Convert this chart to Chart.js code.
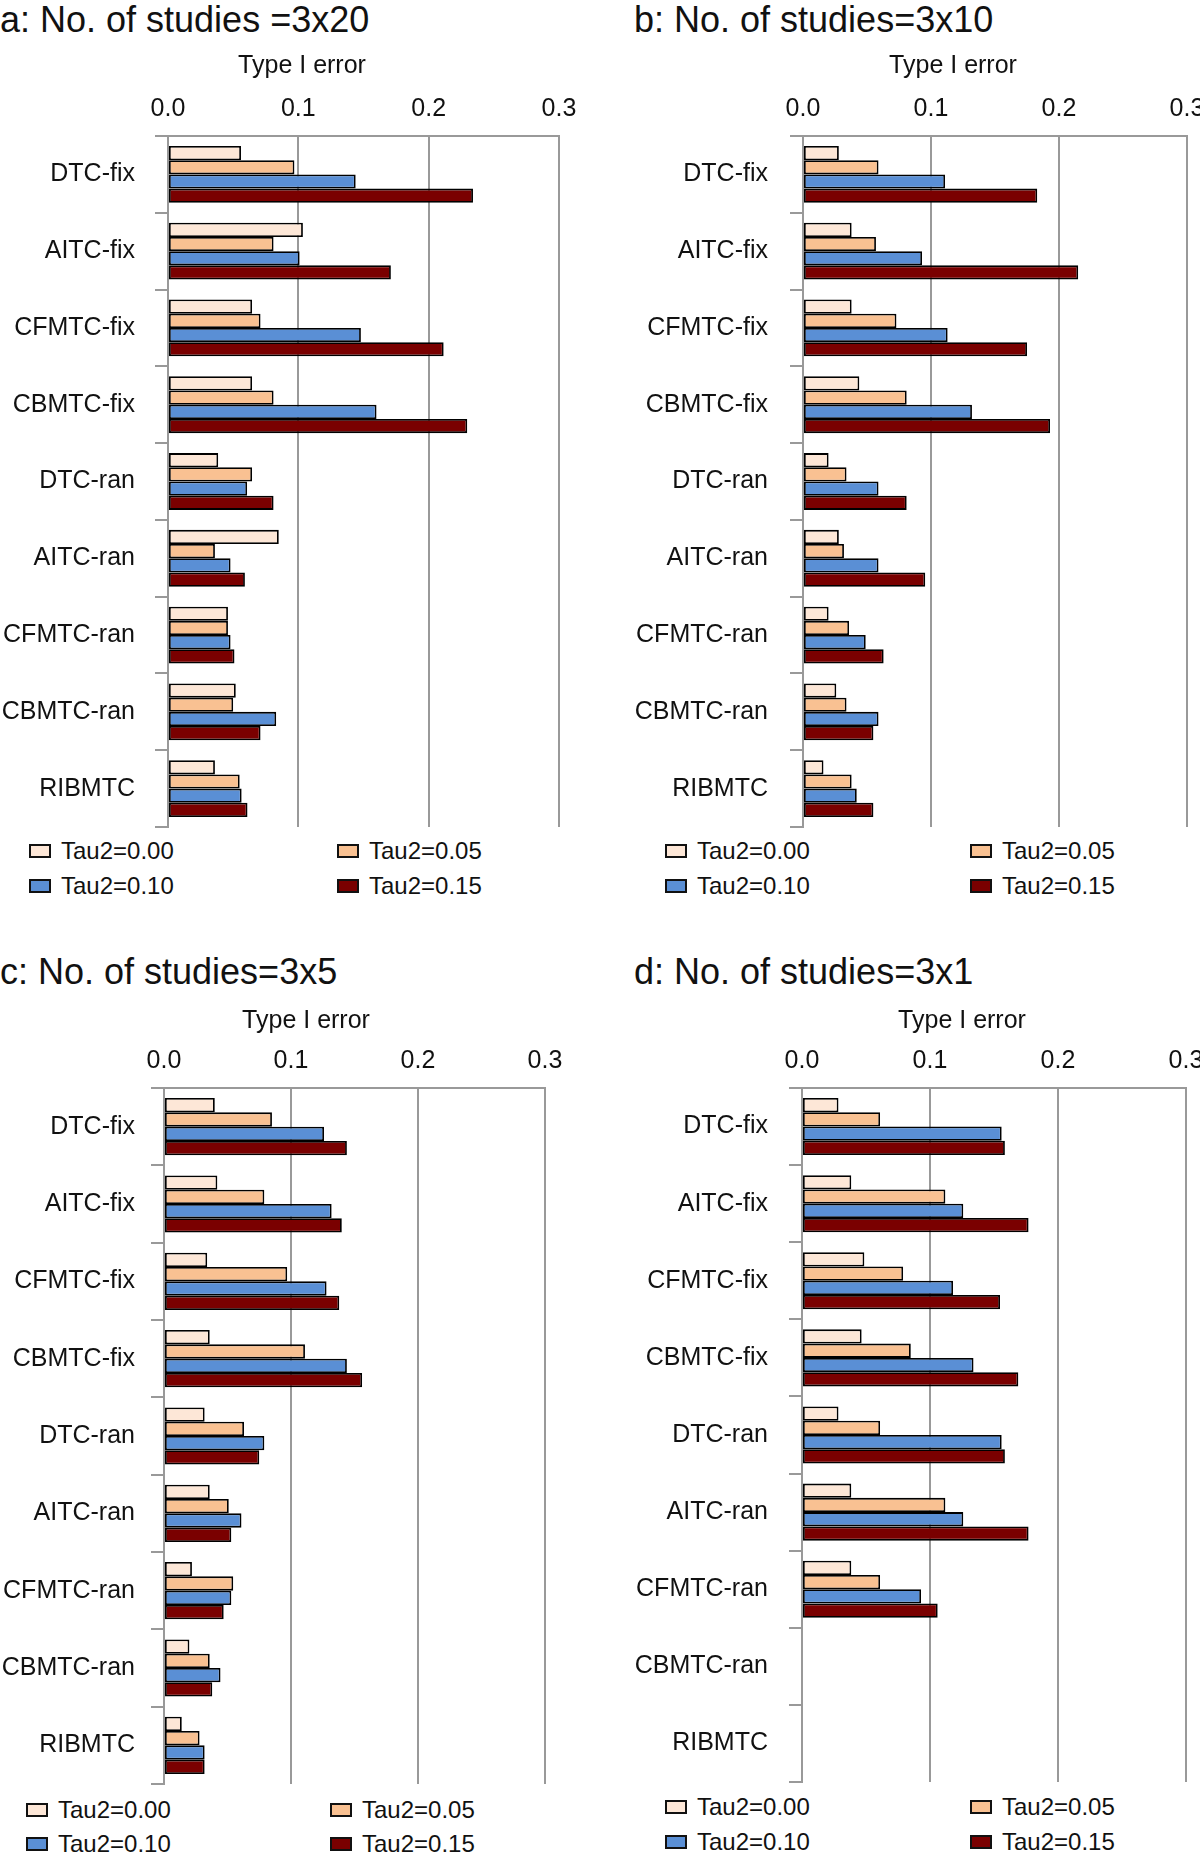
<!DOCTYPE html>
<html>
<head>
<meta charset="utf-8">
<script src="https://cdn.jsdelivr.net/npm/chart.js@4.4.1/dist/chart.umd.min.js"></script>
<style>
  body{margin:0;background:#fff;width:1200px;height:1858px;position:relative;overflow:hidden;
       font-family:'Liberation Sans',Arial,Helvetica,sans-serif;color:#111}
  .ptitle{position:absolute;font-size:36px;line-height:40px;white-space:nowrap}
  canvas{position:absolute}
  .leg{position:absolute;font-size:24px;line-height:30px;height:30px;display:flex;align-items:center;white-space:nowrap}
  .sw{width:22px;height:14px;border:2px solid #111;box-sizing:border-box;margin-right:10px}
</style>
</head>
<body>
<script>
// ---------- data ----------
const categories = ['DTC-fix','AITC-fix','CFMTC-fix','CBMTC-fix','DTC-ran','AITC-ran','CFMTC-ran','CBMTC-ran','RIBMTC'];
const seriesLabels = ['Tau2=0.00','Tau2=0.05','Tau2=0.10','Tau2=0.15'];
const seriesColors = ['#FDE7D7','#F9C192','#5A8FD5','#7A0000'];
const xTickValues = [0, 0.1, 0.2, 0.3];
const xTickLabels = ['0.0','0.1','0.2','0.3'];
const axisTitle = 'Type I error';
const panelTitles = ['a: No. of studies =3x20','b: No. of studies=3x10','c: No. of studies=3x5','d: No. of studies=3x1'];

// panel a: 3x20
const a_tau000 = [0.056, 0.1035, 0.0645, 0.0645, 0.0385, 0.085, 0.046, 0.052, 0.036];
const a_tau005 = [0.097, 0.081, 0.071, 0.081, 0.0645, 0.036, 0.046, 0.050, 0.055];
const a_tau010 = [0.144, 0.101, 0.148, 0.160, 0.0607, 0.048, 0.048, 0.083, 0.0565];
const a_tau015 = [0.234, 0.171, 0.2115, 0.2296, 0.081, 0.059, 0.051, 0.071, 0.061];
// panel b: 3x10
const b_tau000 = [0.028, 0.038, 0.038, 0.044, 0.020, 0.028, 0.020, 0.026, 0.016];
const b_tau005 = [0.059, 0.057, 0.073, 0.081, 0.034, 0.032, 0.036, 0.034, 0.038];
const b_tau010 = [0.111, 0.093, 0.113, 0.132, 0.059, 0.059, 0.049, 0.059, 0.042];
const b_tau015 = [0.183, 0.215, 0.175, 0.193, 0.081, 0.0955, 0.063, 0.055, 0.055];
// panel c: 3x5
const c_tau000 = [0.040, 0.042, 0.034, 0.036, 0.032, 0.036, 0.022, 0.020, 0.014];
const c_tau005 = [0.085, 0.079, 0.097, 0.111, 0.063, 0.051, 0.0545, 0.036, 0.028];
const c_tau010 = [0.126, 0.132, 0.128, 0.144, 0.079, 0.061, 0.053, 0.0445, 0.032];
const c_tau015 = [0.144, 0.140, 0.138, 0.156, 0.075, 0.053, 0.047, 0.038, 0.032];
// panel d: 3x1
const d_tau000 = [0.0285, 0.0385, 0.0487, 0.0466, 0.0285, 0.0385, 0.0385, null, null];
const d_tau005 = [0.061, 0.112, 0.079, 0.085, 0.061, 0.112, 0.061, null, null];
const d_tau010 = [0.156, 0.126, 0.118, 0.134, 0.156, 0.126, 0.093, null, null];
const d_tau015 = [0.1585, 0.177, 0.1547, 0.169, 0.1585, 0.177, 0.106, null, null];

// ---------- layout ----------
const FONT = "'Liberation Sans', Arial, Helvetica, sans-serif";
const panels = [
  {title:panelTitles[0], values:[a_tau000,a_tau005,a_tau010,a_tau015],
   tx:0, ty:0, left:0, top:40, w:600, h:789, pr:41, yw:168, xh:55, tp:20, atx:302,
   legX:[29,337], legY:[836,871]},
  {title:panelTitles[1], values:[b_tau000,b_tau005,b_tau010,b_tau015],
   tx:634, ty:0, left:600, top:40, w:600, h:789, pr:13, yw:203, xh:55, tp:22, atx:953,
   legX:[665,970], legY:[836,871]},
  {title:panelTitles[2], values:[c_tau000,c_tau005,c_tau010,c_tau015],
   tx:0, ty:952, left:0, top:995, w:600, h:791, pr:55, yw:164, xh:52, tp:16, atx:306,
   legX:[26,330], legY:[1795,1829]},
  {title:panelTitles[3], values:[d_tau000,d_tau005,d_tau010,d_tau015],
   tx:634, ty:952, left:600, top:995, w:600, h:789, pr:14, yw:202, xh:52, tp:21, atx:962,
   legX:[665,970], legY:[1792,1827]}
];

function addDiv(cls, x, y, html){
  const d = document.createElement('div');
  d.className = cls; d.style.left = x+'px'; d.style.top = y+'px';
  d.innerHTML = html; document.body.appendChild(d); return d;
}

panels.forEach(p => {
  addDiv('ptitle', p.tx, p.ty, p.title);

  const cv = document.createElement('canvas');
  cv.width = p.w; cv.height = p.h;
  cv.style.left = p.left+'px'; cv.style.top = p.top+'px';
  cv.style.width = p.w+'px'; cv.style.height = p.h+'px';
  document.body.appendChild(cv);

  const axisTitlePlugin = {
    id: 'axisTitleText',
    afterDraw(chart) {
      const ctx = chart.ctx;
      ctx.save();
      ctx.font = '25px ' + FONT;
      ctx.fillStyle = '#111';
      ctx.textAlign = 'center';
      ctx.textBaseline = 'middle';
      ctx.fillText(axisTitle, p.atx - p.left, 26);
      ctx.restore();
    }
  };

  new Chart(cv.getContext('2d'), {
    type: 'bar',
    data: {
      labels: categories,
      datasets: seriesLabels.map((s, i) => ({
        label: s, data: p.values[i],
        backgroundColor: seriesColors[i], borderColor: '#000', borderWidth: 1.8,
        borderSkipped: false, categoryPercentage: 0.74, barPercentage: 1.0
      }))
    },
    options: {
      indexAxis: 'y', responsive: false, animation: false, devicePixelRatio: 1,
      layout: {padding: {left: 0, right: p.pr, top: 41, bottom: 2}},
      plugins: {
        legend: {display: false},
        tooltip: {enabled: false},
        title: {display: false}
      },
      scales: {
        x: {
          position: 'top', min: 0, max: 0.3,
          afterBuildTicks: s => { s.ticks = xTickValues.map(v => ({value: v})); },
          ticks: {padding: 12, color: '#111', font: {size: 25, family: FONT},
                  maxRotation: 0, autoSkip: false, callback: (v, i) => xTickLabels[i]},
          grid: {color: '#999', lineWidth: 2, drawTicks: false},
          border: {color: '#999', width: 2},
          afterFit: s => { s.height = p.xh; s.paddingLeft = 0; s.paddingRight = 0; }
        },
        y: {
          ticks: {padding: p.tp, color: '#111', font: {size: 25, family: FONT}, autoSkip: false},
          grid: {offset: true, drawOnChartArea: false, drawTicks: true, tickLength: 13,
                 color: '#999', lineWidth: 2},
          border: {color: '#999', width: 2},
          afterFit: s => { s.width = p.yw; s.paddingTop = 0; s.paddingBottom = 0; }
        }
      }
    },
    plugins: [axisTitlePlugin]
  });

  seriesLabels.forEach((s, i) => {
    const col = i % 2, row = Math.floor(i / 2);
    addDiv('leg', p.legX[col], p.legY[row],
      '<span class="sw" style="background:'+seriesColors[i]+'"></span><span>'+s+'</span>');
  });
});
</script>
</body>
</html>
